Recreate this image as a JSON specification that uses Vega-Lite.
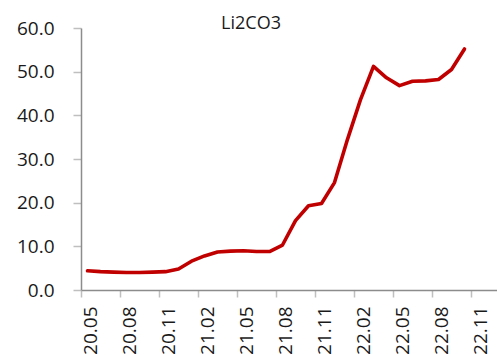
{
  "$schema": "https://vega.github.io/schema/vega-lite/v6.json",
  "autosize": {"type": "none"},
  "padding": {"left": 81, "top": 28, "right": 0, "bottom": 65},
  "width": 416,
  "height": 262,
  "background": "white",
  "title": {
    "text": "Li2CO3",
    "anchor": "middle",
    "frame": "group",
    "dx": -38,
    "dy": 29,
    "baseline": "alphabetic",
    "offset": 1,
    "font": "Open Sans",
    "fontSize": 18,
    "fontWeight": "normal",
    "color": "#1a1a1a"
  },
  "data": {
    "values": [
      {"month": "20.05", "price": 4.4},
      {"month": "20.06", "price": 4.2},
      {"month": "20.07", "price": 4.1},
      {"month": "20.08", "price": 4.0},
      {"month": "20.09", "price": 4.0},
      {"month": "20.10", "price": 4.1},
      {"month": "20.11", "price": 4.2},
      {"month": "20.12", "price": 4.8},
      {"month": "21.01", "price": 6.6},
      {"month": "21.02", "price": 7.8},
      {"month": "21.03", "price": 8.7},
      {"month": "21.04", "price": 8.9},
      {"month": "21.05", "price": 9.0},
      {"month": "21.06", "price": 8.8},
      {"month": "21.07", "price": 8.8},
      {"month": "21.08", "price": 10.3},
      {"month": "21.09", "price": 15.9},
      {"month": "21.10", "price": 19.3},
      {"month": "21.11", "price": 19.8},
      {"month": "21.12", "price": 24.6},
      {"month": "22.01", "price": 34.5},
      {"month": "22.02", "price": 43.6},
      {"month": "22.03", "price": 51.2},
      {"month": "22.04", "price": 48.6},
      {"month": "22.05", "price": 46.8},
      {"month": "22.06", "price": 47.8},
      {"month": "22.07", "price": 47.9},
      {"month": "22.08", "price": 48.2},
      {"month": "22.09", "price": 50.5},
      {"month": "22.10", "price": 55.2}
    ]
  },
  "mark": {"type": "line", "color": "#C00000", "strokeWidth": 3.6, "strokeCap": "round", "strokeJoin": "round"},
  "encoding": {
    "x": {
      "field": "month",
      "type": "ordinal",
      "sort": null,
      "scale": {
        "type": "band",
        "paddingInner": 0,
        "paddingOuter": 0,
        "domain": ["20.05","20.06","20.07","20.08","20.09","20.10","20.11","20.12","21.01","21.02","21.03","21.04","21.05","21.06","21.07","21.08","21.09","21.10","21.11","21.12","22.01","22.02","22.03","22.04","22.05","22.06","22.07","22.08","22.09","22.10","22.11","22.12"]
      },
      "axis": {
        "title": null,
        "values": ["20.05","20.08","20.11","21.02","21.05","21.08","21.11","22.02","22.05","22.08","22.11"],
        "bandPosition": 0,
        "labelOffset": 3,
        "labelAngle": -90,
        "labelFont": "Open Sans",
        "labelFontSize": 19,
        "labelColor": "#1a1a1a",
        "labelPadding": 9,
        "tickSize": 7,
        "tickColor": "#bfbfbf",
        "tickWidth": 1.5,
        "domainColor": "#8c8c8c",
        "domainWidth": 1.5,
        "grid": false
      }
    },
    "y": {
      "field": "price",
      "type": "quantitative",
      "scale": {"domain": [0, 60], "nice": false, "zero": true},
      "axis": {
        "title": null,
        "values": [0, 10, 20, 30, 40, 50, 60],
        "format": ".1f",
        "labelFont": "Open Sans",
        "labelFontSize": 19,
        "labelColor": "#1a1a1a",
        "labelPadding": 19,
        "tickSize": 8,
        "tickColor": "#bfbfbf",
        "tickWidth": 1.5,
        "domainColor": "#8c8c8c",
        "domainWidth": 1.5,
        "grid": false
      }
    }
  },
  "config": {"view": {"stroke": null}}
}
